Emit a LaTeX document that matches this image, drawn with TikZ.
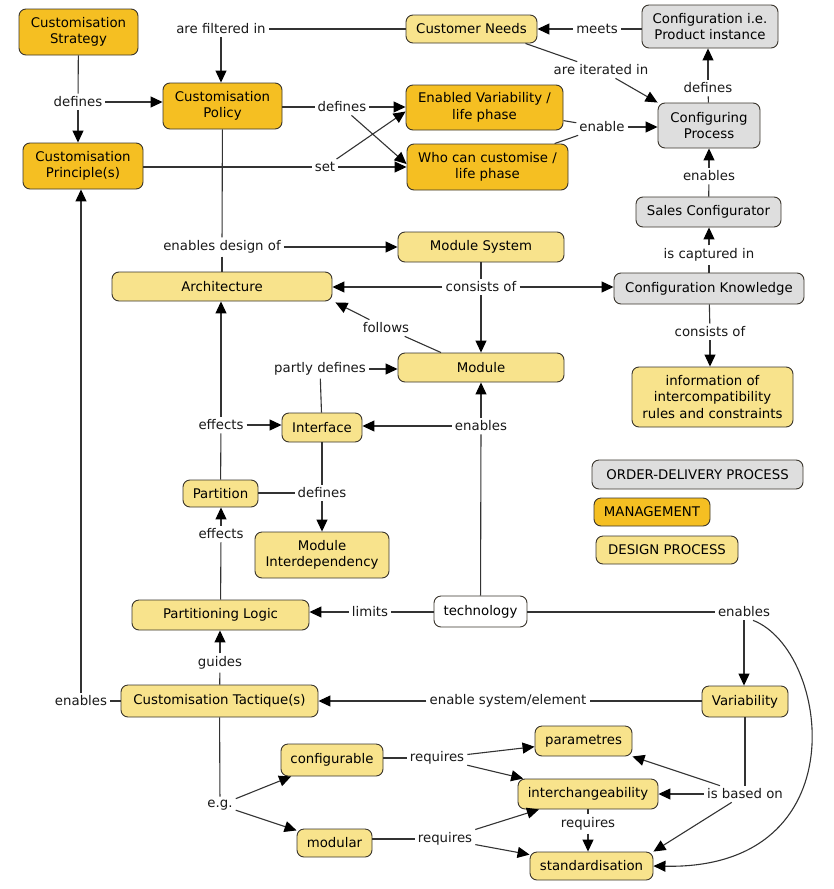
\documentclass[tikz,border=0pt]{standalone}
\usepackage{fontspec}
\setmainfont{DejaVu Sans}
\usetikzlibrary{arrows.meta,calc}
\definecolor{mgmt}{HTML}{F5BF22}
\definecolor{dsgn}{HTML}{F8E38C}
\definecolor{ordr}{HTML}{DEDEDE}
\definecolor{edgec}{HTML}{333333}
\definecolor{bord}{HTML}{3A352C}
\begin{document}
\begin{tikzpicture}[x=1pt,y=-1pt,
  font=\fontsize{13.3}{16.5}\selectfont,
  box/.style={draw=bord, line width=0.9pt, rounded corners=7pt, align=center, inner sep=0pt},
  mg/.style={box, fill=mgmt},
  ds/.style={box, fill=dsgn},
  od/.style={box, fill=ordr},
  wt/.style={box, fill=white},
  lbl/.style={inner sep=3pt, fill=white, text=black!90},
  ln/.style={draw=edgec, line width=1.1pt},
  arr/.style={ln, -{Triangle[length=12pt,width=11pt,color=black]}},
]
\useasboundingbox (0,0) rectangle (834,889);
% concepts
\node[mg, minimum width=119, minimum height=46] (strat) at (78.5,32) {Customisation\\Strategy};
\node[mg, minimum width=119, minimum height=46] (pol) at (222.5,106) {Customisation\\Policy};
\node[mg, minimum width=120, minimum height=46] (princ) at (83,166) {Customisation\\Principle(s)};
\node[ds, minimum width=131, minimum height=28] (cn) at (471.5,29) {Customer Needs};
\node[od, minimum width=136, minimum height=43] (conf) at (710,26.5) {Configuration i.e.\\Product instance};
\node[mg, minimum width=157, minimum height=45] (ev) at (484.5,107.5) {Enabled Variability /\\life phase};
\node[mg, minimum width=161, minimum height=46] (who) at (487.5,167) {Who can customise /\\life phase};
\node[od, minimum width=102, minimum height=45] (cp) at (709,125.5) {Configuring\\Process};
\node[od, minimum width=145, minimum height=30] (sc) at (708.5,212) {Sales Configurator};
\node[ds, minimum width=166, minimum height=30] (ms) at (481,247) {Module System};
\node[ds, minimum width=220, minimum height=29] (arch) at (222,286.5) {Architecture};
\node[od, minimum width=190, minimum height=31] (ck) at (709,288.5) {Configuration Knowledge};
\node[ds, minimum width=166, minimum height=29] (mod) at (481,367.5) {Module};
\node[ds, minimum width=161, minimum height=60] (info) at (712.5,397) {information of\\intercompatibility\\rules and constraints};
\node[ds, minimum width=80, minimum height=29] (intf) at (322,427.5) {Interface};
\node[od, minimum width=211, minimum height=29] (odp) at (697.5,474.5) {ORDER-DELIVERY PROCESS};
\node[mg, minimum width=116, minimum height=28] (mgt) at (652,512) {MANAGEMENT};
\node[ds, minimum width=142, minimum height=28] (dsp) at (667,550) {DESIGN PROCESS};
\node[ds, minimum width=75, minimum height=27] (part) at (220.5,493.5) {Partition};
\node[ds, minimum width=134, minimum height=46] (mid) at (322,555) {Module\\Interdependency};
\node[ds, minimum width=177, minimum height=30] (pl) at (220.5,615) {Partitioning Logic};
\node[wt, minimum width=93, minimum height=31] (tech) at (480.5,611.5) {technology};
\node[ds, minimum width=197, minimum height=32] (tac) at (219.5,701) {Customisation Tactique(s)};
\node[ds, minimum width=86, minimum height=31] (var) at (745,701.5) {Variability};
\node[ds, minimum width=102, minimum height=32] (cfg) at (332,760) {configurable};
\node[ds, minimum width=97, minimum height=30] (par) at (583.5,741) {parametres};
\node[ds, minimum width=140, minimum height=30] (inter) at (588,794) {interchangeability};
\node[ds, minimum width=75, minimum height=28] (modu) at (334.5,843) {modular};
\node[ds, minimum width=123, minimum height=28] (std) at (591.5,866) {standardisation};
% linking phrases
\node[lbl] (lfilt) at (221,29) {are filtered in};
\node[lbl] (ldef1) at (78,102) {defines};
\node[lbl] (ldef2) at (342,107) {defines};
\node[lbl] (lset) at (325,167) {set};
\node[lbl] (lmeets) at (597,29) {meets};
\node[lbl] (liter) at (601,70) {are iterated in};
\node[lbl] (ldef3) at (708,88) {defines};
\node[lbl] (lenable) at (602,127) {enable};
\node[lbl] (lenA) at (709,176) {enables};
\node[lbl] (lcap) at (709,255) {is captured in};
\node[lbl] (ledo) at (222,247) {enables design of};
\node[lbl] (lcons) at (481,287) {consists of};
\node[lbl] (lfollows) at (386,328) {follows};
\node[lbl] (lpartly) at (320,369) {partly defines};
\node[lbl] (lconsB) at (710,332) {consists of};
\node[lbl] (leffA) at (221,425) {effects};
\node[lbl] (lenB) at (481,426) {enables};
\node[lbl] (ldefD) at (322,493) {defines};
\node[lbl] (leffB) at (221,534) {effects};
\node[lbl] (llimits) at (370,612) {limits};
\node[lbl] (lenC) at (744,612) {enables};
\node[lbl] (lguides) at (220,663) {guides};
\node[lbl] (lenD) at (81,701) {enables};
\node[lbl] (lesys) at (508,701) {enable system/element};
\node[lbl] (leg) at (220,805) {e.g.};
\node[lbl] (lreqA) at (437,758) {requires};
\node[lbl] (lreqB) at (445,839) {requires};
\node[lbl] (lreqC) at (588,824) {requires};
\node[lbl] (lbased) at (745,794) {is based on};
% connectors
\draw[ln] (cn.west) -- (lfilt.east);
\draw[arr] (lfilt) -- (lfilt |- pol.north);
\draw[ln] (strat) -- (ldef1);
\draw[arr] (ldef1) -- (ldef1 |- princ.north);
\draw[arr] (ldef1.east) -- (ldef1.east -| pol.west);
\draw[ln] (pol.east |- ldef2) -- (ldef2.west);
\draw[arr] (ldef2.east) -- (ldef2.east -| ev.west);
\draw[arr] (ldef2) -- ([yshift=3pt]who.west);
\draw[ln] (princ.east |- lset) -- (lset.west);
\draw[arr] (lset.east) -- (lset.east -| who.west);
\draw[arr] (lset) -- ([yshift=-4pt]ev.west);
\draw[ln] (conf.west |- lmeets) -- (lmeets.east);
\draw[arr] (lmeets.west) -- (lmeets.west -| cn.east);
\draw[ln] ([xshift=-12pt]cn.south east) -- (liter);
\draw[arr] (liter) -- (cp.north west);
\draw[ln] (cp) -- (ldef3);
\draw[arr] (ldef3) -- (ldef3 |- conf.south);
\draw[ln] (ev) -- (lenable);
\draw[ln] (who) -- (lenable);
\draw[arr] (lenable.east) -- (lenable.east -| cp.west);
\draw[ln] (sc) -- (lenA);
\draw[arr] (lenA) -- (lenA |- cp.south);
\draw[ln] (ck) -- (lcap);
\draw[arr] (lcap) -- (lcap |- sc.south);
\draw[ln] (pol) -- (ledo);
\draw[ln] (ledo) -- (ledo |- arch.north);
\draw[arr] (ledo.east) -- (ledo.east -| ms.west);
\draw[ln] (ms) -- (lcons);
\draw[arr] (lcons.west) -- (lcons.west -| arch.east);
\draw[arr] (lcons.east) -- (lcons.east -| ck.west);
\draw[arr] (lcons) -- (lcons |- mod.north);
\draw[ln] ([xshift=-40pt]mod.north) -- (lfollows);
\draw[arr] (lfollows) -- ([xshift=3pt,yshift=-1pt]arch.south east);
\draw[ln] (intf) -- (lpartly);
\draw[arr] (lpartly.east) -- (lpartly.east -| mod.west);
\draw[ln] (ck) -- (lconsB);
\draw[arr] (lconsB) -- (lconsB |- info.north);
\draw[ln] (tech) -- (lenB);
\draw[arr] (lenB) -- (lenB |- mod.south);
\draw[arr] (lenB.west) -- (lenB.west -| intf.east);
\draw[ln] (part) -- (leffA);
\draw[arr] (leffA) -- (leffA |- arch.south);
\draw[arr] (leffA.east) -- (leffA.east -| intf.west);
\draw[ln] (part.east |- ldefD) -- (ldefD.west);
\draw[ln] (intf) -- (ldefD);
\draw[arr] (ldefD) -- (ldefD |- mid.north);
\draw[ln] (pl) -- (leffB);
\draw[arr] (leffB) -- (leffB |- part.south);
\draw[ln] (tech.west |- llimits) -- (llimits.east);
\draw[arr] (llimits.west) -- (llimits.west -| pl.east);
\draw[ln] (tech.east |- lenC) -- (lenC.west);
\draw[arr] (lenC) -- (lenC |- var.north);
\draw[arr] ([xshift=9pt]lenC.south) .. controls (830,650) and (860,870) .. (std.east);
\draw[ln] (tac) -- (lguides);
\draw[arr] (lguides) -- (lguides |- pl.south);
\draw[ln] (tac.west |- lenD) -- (lenD.east);
\draw[arr] (lenD) -- (lenD |- princ.south);
\draw[ln] (var.west |- lesys) -- (lesys.east);
\draw[arr] (lesys.west) -- (lesys.west -| tac.east);
\draw[ln] (tac) -- (leg);
\draw[arr] (leg) -- (cfg);
\draw[arr] (leg) -- (modu);
\draw[ln] (cfg.east |- lreqA) -- (lreqA.west);
\draw[arr] (lreqA) -- (par);
\draw[arr] (lreqA) -- (inter);
\draw[ln] (modu.east |- lreqB) -- (lreqB.west);
\draw[arr] (lreqB) -- (inter);
\draw[arr] (lreqB) -- (std);
\draw[ln] (inter) -- (lreqC);
\draw[arr] (lreqC) -- (lreqC |- std.north);
\draw[ln] (var) -- (lbased);
\draw[arr] (lbased) -- (par.south east);
\draw[arr] (lbased.west) -- (lbased.west -| inter.east);
\draw[arr] (lbased) -- (std.north east);
\end{tikzpicture}
\end{document}
